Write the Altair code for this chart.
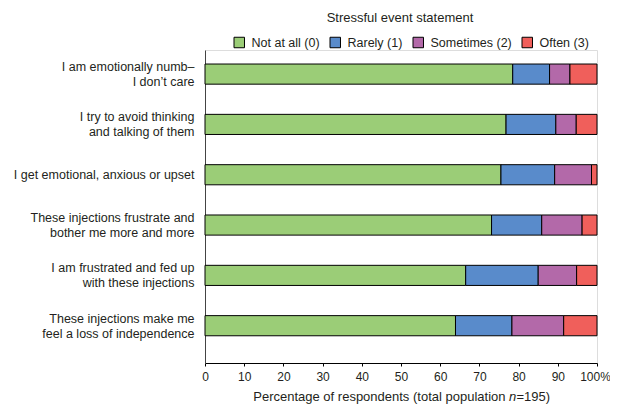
import altair as alt
import pandas as pd

statements = [
    "I am emotionally numb–|I don’t care",
    "I try to avoid thinking|and talking of them",
    "I get emotional, anxious or upset",
    "These injections frustrate and|bother me more and more",
    "I am frustrated and fed up|with these injections",
    "These injections make me|feel a loss of independence",
]
categories = ["Not at all (0)", "Rarely (1)", "Sometimes (2)", "Often (3)"]
colors = ["#9BCD77", "#598BCB", "#B369A9", "#F05F5B"]

not_at_all = [78.5, 76.8, 75.5, 73.1, 66.5, 63.9]
rarely = [9.4, 12.7, 13.7, 12.8, 18.5, 14.4]
sometimes = [5.2, 5.2, 9.4, 10.3, 9.8, 13.2]
often = [6.9, 5.3, 1.4, 3.8, 5.2, 8.5]

x_ticks = [0, 10, 20, 30, 40, 50, 60, 70, 80, 90, 100]

series = [not_at_all, rarely, sometimes, often]
rows = []
for ci, (cat, vals) in enumerate(zip(categories, series)):
    for s, v in zip(statements, vals):
        rows.append({"statement": s, "category": cat, "value": v, "idx": ci})
df = pd.DataFrame(rows)

FONT = "Liberation Sans"
TXT = "#231F20"

bars = alt.Chart(df).mark_bar(stroke="black", strokeWidth=1).encode(
    x=alt.X(
        "value:Q",
        stack="zero",
        scale=alt.Scale(domain=[0, 100], nice=False),
        axis=alt.Axis(
            values=x_ticks,
            labelExpr="datum.value == 100 ? '100%' : datum.label",
            labelFlush=False,
            labelOffset={"condition": {"test": "datum.value == 100", "value": -2}, "value": 0},
            grid=False,
            domainColor="black",
            tickColor="black",
            tickSize=3,
            labelPadding=5,
            labelFontSize=12,
            labelFont=FONT,
            labelColor=TXT,
            title=None,
        ),
    ),
    y=alt.Y(
        "statement:N",
        sort=statements,
        scale=alt.Scale(paddingInner=0.6, paddingOuter=0.41, align=0.34),
        axis=alt.Axis(
            labelExpr="split(datum.label, '|')",
            labelOffset={"condition": {"test": "indexof(datum.value, '|') >= 0", "value": -7}, "value": 0},
            ticks=False,
            grid=False,
            domainColor="#444",
            labelPadding=11,
            labelFontSize=12.5,
            labelFont=FONT,
            labelColor=TXT,
            labelLineHeight=15,
            labelLimit=220,
            title=None,
        ),
    ),
    color=alt.Color(
        "category:N",
        sort=categories,
        scale=alt.Scale(domain=categories, range=colors),
        legend=alt.Legend(
            title=None,
            orient="none",
            legendX=28,
            legendY=-14,
            direction="horizontal",
            symbolType="square",
            symbolSize=110,
            symbolStrokeColor="black",
            symbolStrokeWidth=1,
            symbolOpacity=1,
            labelFontSize=12.5,
            labelFont=FONT,
            labelColor=TXT,
            labelOffset=6,
            columnPadding=8,
        ),
    ),
    order=alt.Order("idx:Q"),
)

one = pd.DataFrame({"a": [0]})

def txt(text, x, y, align="left", style="normal", size=13):
    return alt.Chart(one).mark_text(
        text=text, align=align, baseline="middle", fontSize=size,
        font=FONT, color=TXT, fontStyle=style,
    ).encode(x=alt.value(x), y=alt.value(y))

legend_title = txt("Stressful event statement", 195, -32, align="center")
xt1 = txt("Percentage of respondents (total population", 300.5, 346.5, align="right")
xt2 = txt("n", 304, 346.5, style="italic")
xt3 = txt("=195)", 311.5, 346.5)

chart = alt.layer(bars, legend_title, xt1, xt2, xt3).properties(
    width=392,
    height=313,
    autosize=alt.AutoSizeParams(type="none"),
    padding={"left": 197, "top": 42, "right": 13, "bottom": 44},
).configure_view(stroke=None).configure(background="white")

chart.save("out.html", embed_options={"renderer": "svg", "actions": False})
